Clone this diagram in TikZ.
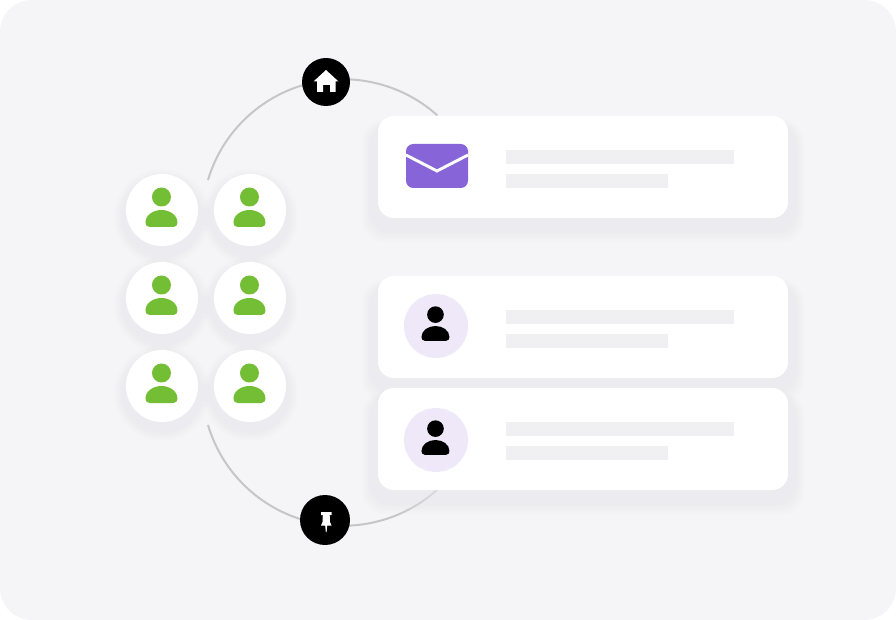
\documentclass[tikz,border=0pt]{standalone}
\usepackage{tikz}
\definecolor{pagebg}{HTML}{F5F5F8}
\definecolor{barcol}{HTML}{F0F0F3}
\definecolor{ringcol}{HTML}{C6C6C8}
\definecolor{leaf}{HTML}{74BE35}
\definecolor{mail}{HTML}{8764D8}
\definecolor{lilac}{HTML}{EEE8F8}
\definecolor{shadowcol}{HTML}{EBEBF0}
\tikzset{
  person/.pic={
    \fill (0,-13) circle (9.5);
    \fill (-12,17) .. controls (-15,17) and (-16,14.5) .. (-16,12.5)
      .. controls (-16,5) and (-8,0) .. (0,0)
      .. controls (8,0) and (16,5) .. (16,12.5)
      .. controls (16,14.5) and (15,17) .. (12,17) -- cycle;
  }
}
\begin{document}
\begin{tikzpicture}[
    x=0.75pt,y=-0.75pt,
    card/.style={draw=none,fill=white,rounded corners=12pt,minimum width=307.5pt,minimum height=76.5pt,inner sep=0pt},
    bubble/.style={draw=none,fill=white,circle,minimum size=54pt,inner sep=0pt},
    badge/.style={draw=none,fill=black,circle,minimum size=36pt,inner sep=0pt},
    avatar/.style={draw=none,fill=lilac,circle,minimum size=48pt,inner sep=0pt},
    bar/.style={fill=barcol},
    ring/.style={line width=1.5pt, ringcol}
    ]
    \useasboundingbox (0, 0) rectangle (896, 620);
    \fill[white] (0, 0) rectangle (896, 620);
    \fill[pagebg, rounded corners=24pt] (0, 0) rectangle (896, 620);
    % ring
    \coordinate (tl) at (208, 180);
    \coordinate (bl) at (208, 425);
    \draw[ring] (tl) arc[start angle=-163.4, end angle=-48, radius=141];
    \draw[ring] (bl) arc[start angle=163.4, end angle=48, radius=141];
    % soft shadows
    \foreach \i in {16,15,...,1} {
      \foreach \cy in {167, 327, 439}
        \fill[shadowcol, opacity=.06, rounded corners=16pt]
          (378-1*\i, \cy-40-.4*\i) rectangle (788+1*\i, \cy+56+1.2*\i);
      \foreach \px in {162, 250}
        \foreach \py in {210, 298, 386}
          \fill[shadowcol, opacity=.035] (\px, \py+7) circle (32+1*\i);
    }
    % people
    \foreach \px/\cname in {162/a, 250/b}
      \foreach \py/\rname in {210/1, 298/2, 386/3} {
        \node[bubble] (p\cname\rname) at (\px, \py) {};
        \pic[leaf] at ([xshift=-.4pt]p\cname\rname) {person};
      }
    % cards
    \foreach \cy/\cname in {167/mail, 327/one, 439/two} {
      \node[card] (\cname) at (583, \cy) {};
      \fill[bar] (506, \cy-17) rectangle (734, \cy-3);
      \fill[bar] (506, \cy+7) rectangle (668, \cy+21);
    }
    % envelope
    \fill[mail, rounded corners=5.5pt] (406, 144) rectangle (468, 188);
    \draw[white, line width=2.2pt] (406, 155) -- (437, 171) -- (468, 155);
    % avatars
    \node[avatar] (ava) at (436, 326) {};
    \node[avatar] (avb) at (436, 440) {};
    \pic[black, scale=.875] at ([xshift=-.4pt]ava) {person};
    \pic[black, scale=.875] at ([xshift=-.4pt]avb) {person};
    % badges
    \node[badge] (home) at (326, 82) {};
    \node[badge, minimum size=37.5pt] (pin) at (325, 520) {};
    \fill[white] (326, 70) -- (338.5, 81.5) -- (335.5, 81.5) -- (335.5, 92) -- (330, 92)
      -- (330, 85) -- (323, 85) -- (323, 92) -- (317, 92) -- (317, 81.5) -- (313.5, 81.5) -- cycle;
    \fill[white] (321, 512) -- (331.5, 512) -- (331.5, 515) -- (329.7, 515) -- (330, 522)
      -- (331.5, 525.5) -- (327.2, 525.5) -- (326.6, 532) -- (325.8, 532) -- (325.2, 525.5)
      -- (321, 525.5) -- (322.5, 522) -- (322.8, 515) -- (321, 515) -- cycle;
  \end{tikzpicture}
\end{document}
